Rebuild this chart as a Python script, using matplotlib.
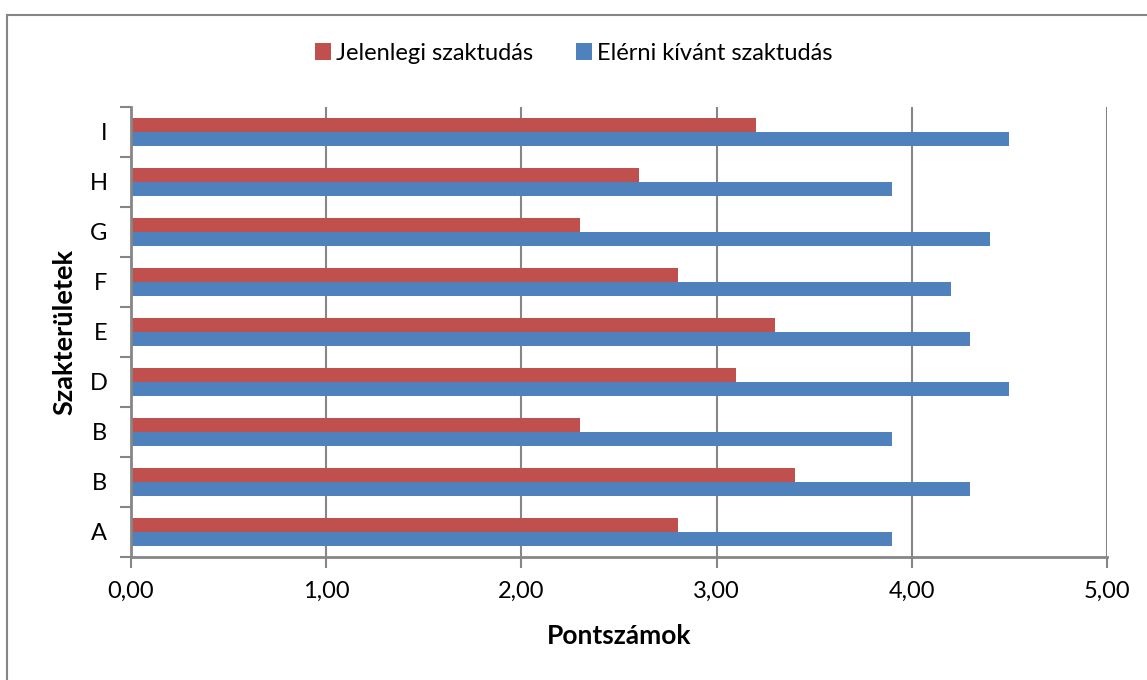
import matplotlib
matplotlib.use("Agg")
import matplotlib.pyplot as plt
from matplotlib.lines import Line2D
import numpy as np

plt.rcParams['font.family'] = ['Lato', 'DejaVu Sans']

categories = ["A", "B", "B", "D", "E", "F", "G", "H", "I"]
current = [2.8, 3.4, 2.3, 3.1, 3.3, 2.8, 2.3, 2.6, 3.2]
desired = [3.9, 4.3, 3.9, 4.5, 4.3, 4.2, 4.4, 3.9, 4.5]
xticks = [0, 1, 2, 3, 4, 5]
xticklabels = ["0,00", "1,00", "2,00", "3,00", "4,00", "5,00"]

red = "#C0504D"
blue = "#4F81BD"
gray = "#868686"

fig = plt.figure(figsize=(11.47, 6.80), dpi=100)
ax = fig.add_axes([131/1147, 1 - 557/680, (1107-131)/1147, (557-107)/680])

y = np.arange(len(categories))
h = 0.28
ax.barh(y + h/2, current, height=h, color=red, label="Jelenlegi szaktudás", zorder=3)
ax.barh(y - h/2, desired, height=h, color=blue, label="Elérni kívánt szaktudás", zorder=3)

ax.set_xlim(0, 5)
ax.set_ylim(-0.5, len(categories) - 0.5)
ax.set_xticks(xticks)
ax.set_xticklabels(xticklabels)
ax.set_yticks(y)
ax.set_yticklabels(categories)
ax.set_yticks(np.arange(-0.5, len(categories), 1), minor=True)
ax.tick_params(axis='y', which='major', length=0, pad=17, labelsize=17)
ax.tick_params(axis='y', which='minor', length=8, width=1.5, color=gray)
ax.tick_params(axis='x', which='major', length=8, width=1.5, color=gray, pad=9, labelsize=17)

ax.grid(axis='x', color=gray, linewidth=1.5, zorder=0)
for s in ['top', 'right']:
    ax.spines[s].set_visible(False)
for s in ['left', 'bottom']:
    ax.spines[s].set_color(gray)
    ax.spines[s].set_linewidth(2)
    ax.spines[s].set_zorder(4)

ax.set_xlabel("Pontszámok", fontsize=19, fontweight='bold', labelpad=16)
ax.set_ylabel("Szakterületek", fontsize=19.5, fontweight='bold', labelpad=9)

ax.legend(loc='center', bbox_to_anchor=(0.5, 1 - 53/680), bbox_transform=fig.transFigure,
          ncol=2, frameon=False, fontsize=17, handlelength=0.7, handleheight=0.7,
          handletextpad=0.2, columnspacing=1.8)

fig.add_artist(Line2D([7.5/1147, 7.5/1147], [0, 1 - 15/680], transform=fig.transFigure,
                      color=gray, linewidth=1.5))
fig.add_artist(Line2D([7.5/1147, 1], [1 - 15/680, 1 - 15/680], transform=fig.transFigure,
                      color=gray, linewidth=1.5))

fig.savefig("out.png", dpi=100)
